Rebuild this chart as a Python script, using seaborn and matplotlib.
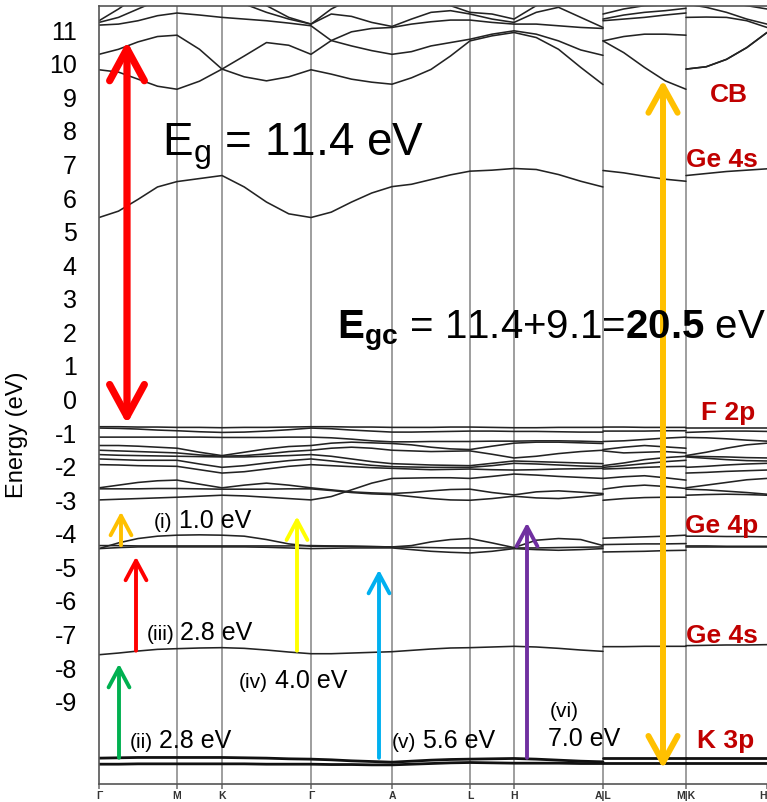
import matplotlib
matplotlib.use("Agg")
import matplotlib.pyplot as plt
import numpy as np
import pandas as pd
import seaborn as sns
from matplotlib.patches import FancyArrowPatch

# ---------------------------------------------------------------- data
# k-path coordinate: Γ-M-K-Γ-A-L-H-A | L-M | K-H
K_PATH = [0, 19.5, 39, 58.5, 78, 100.5, 123, 145.25, 167.5, 189.75, 212,
          232.25, 252.5, 272.75, 293, 312.5, 332, 351.5, 371, 393, 415,
          437.25, 459.5, 481.75, 504,
          504, 524.75, 545.5, 566.25, 587,
          587, 607.25, 627.5, 647.75, 668]
PIECE = [1] * 25 + [2] * 5 + [3] * 5

HSP_POS = [0, 78, 123, 212, 293, 371, 415, 504, 587, 668]
HSP_LABELS = ["Γ", "M", "K", "Γ", "A", "L", "H", "A|L", "M|K", "H"]

# conduction bands (eV)
CB1 = [5.39, 5.58, 5.93, 6.30, 6.46, 6.55, 6.64, 6.30, 5.85, 5.50, 5.39,
       5.55, 5.85, 6.12, 6.31, 6.38, 6.52, 6.66, 6.77, 6.80, 6.85,
       6.82, 6.67, 6.47, 6.30,
       6.79, 6.72, 6.62, 6.53, 6.47,
       6.64, 6.70, 6.76, 6.80, 6.84]
CB2 = [9.79, 9.72, 9.51, 9.30, 9.21, 9.45, 9.81, 9.58, 9.46, 9.58, 9.79,
       9.66, 9.51, 9.42, 9.36, 9.55, 9.80, 10.20, 10.65, 10.80, 10.90,
       10.75, 10.40, 9.86, 9.35,
       10.65, 10.30, 9.86, 9.46, 9.21,
       9.81, 9.88, 10.10, 10.45, 10.90]
CB3 = [10.25, 10.40, 10.62, 10.78, 10.82, 10.40, 9.81, 10.20, 10.60, 10.52, 10.25,
       10.66, 10.50, 10.36, 10.25, 10.33, 10.50, 10.60, 10.70, 10.85, 10.95,
       10.85, 10.65, 10.38, 10.22,
       10.65, 10.78, 10.85, 10.85, 10.82,
       9.81, 9.88, 10.10, 10.45, 10.90]
CB4 = [11.12, 11.15, 11.25, 11.40, 11.48, 11.42, 11.35, 11.30, 11.25, 11.18, 11.10,
       10.66, 10.92, 11.02, 11.05, 11.15, 11.22, 11.27, 11.27, 11.20, 11.15,
       11.15, 11.10, 11.05, 11.02,
       11.25, 11.30, 11.35, 11.42, 11.48,
       11.35, 11.36, 11.35, 11.25, 11.05]
CB5 = [11.20, 11.35, 11.60, 11.85, 12.00, 12.10, 12.00, 11.75, 11.50, 11.30, 11.15,
       11.45, 11.38, 11.20, 11.08, 11.30, 11.50, 11.55, 11.45, 11.30, 11.20,
       11.50, 11.65, 11.35, 11.05,
       11.30, 11.42, 11.50, 11.55, 11.62,
       11.75, 11.65, 11.50, 11.30, 11.15]
CB6 = [11.25, 11.60, 12.00, 12.30, 12.40, 12.30, 12.20, 12.00, 11.70, 11.35, 11.15,
       11.60, 11.90, 12.10, 12.20, 12.10, 11.90, 11.70, 11.50, 11.45, 11.30,
       11.70, 12.00, 12.20, 12.30,
       11.45, 11.60, 11.70, 11.72, 11.75,
       12.00, 11.90, 11.80, 11.70, 11.60]

# F 2p valence bands (eV)
F1 = [-0.84, -0.84, -0.85, -0.85, -0.86, -0.86, -0.87, -0.86, -0.86, -0.85, -0.84,
      -0.84, -0.85, -0.85, -0.86, -0.86, -0.86, -0.85, -0.85, -0.86, -0.87,
      -0.87, -0.86, -0.86, -0.86,
      -0.85, -0.85, -0.86, -0.86, -0.86,
      -0.87, -0.87, -0.87, -0.87, -0.87]
F2 = [-0.88, -0.89, -0.91, -0.94, -0.96, -0.99, -1.01, -1.00, -0.97, -0.93, -0.88,
      -0.90, -0.94, -0.97, -1.00, -1.00, -0.99, -0.98, -0.97, -0.97, -0.98,
      -0.98, -0.99, -1.00, -1.00,
      -0.97, -0.97, -0.97, -0.96, -0.96,
      -1.01, -0.99, -0.97, -0.97, -0.98]
F3 = [-1.15, -1.15, -1.15, -1.15, -1.15, -1.15, -1.16, -1.16, -1.16, -1.15, -1.15,
      -1.17, -1.21, -1.26, -1.29, -1.29, -1.28, -1.28, -1.28, -1.27, -1.27,
      -1.26, -1.26, -1.27, -1.29,
      -1.28, -1.26, -1.22, -1.18, -1.15,
      -1.16, -1.17, -1.20, -1.24, -1.27]
F4 = [-1.40, -1.40, -1.42, -1.45, -1.48, -1.60, -1.70, -1.60, -1.50, -1.43, -1.40,
      -1.33, -1.30, -1.32, -1.34, -1.38, -1.45, -1.50, -1.52, -1.42, -1.33,
      -1.30, -1.30, -1.32, -1.34,
      -1.52, -1.45, -1.40, -1.44, -1.48,
      -1.70, -1.60, -1.48, -1.38, -1.33]
F5 = [-1.54, -1.56, -1.58, -1.60, -1.62, -1.68, -1.72, -1.70, -1.65, -1.58, -1.54,
      -1.48, -1.45, -1.48, -1.54, -1.56, -1.58, -1.57, -1.56, -1.66, -1.77,
      -1.72, -1.64, -1.58, -1.54,
      -1.56, -1.62, -1.60, -1.58, -1.62,
      -1.72, -1.73, -1.74, -1.76, -1.77]
F6 = [-1.67, -1.69, -1.70, -1.71, -1.72, -1.73, -1.74, -1.74, -1.72, -1.70, -1.67,
      -1.72, -1.80, -1.88, -1.94, -1.96, -1.98, -1.99, -2.00, -1.93, -1.86,
      -1.88, -1.90, -1.92, -1.94,
      -2.00, -1.92, -1.82, -1.76, -1.72,
      -1.74, -1.78, -1.82, -1.85, -1.86]
F7 = [-1.80, -1.82, -1.84, -1.84, -1.84, -1.95, -2.05, -2.00, -1.92, -1.85, -1.80,
      -1.86, -1.93, -1.99, -2.03, -2.04, -2.05, -2.05, -2.05, -2.00, -1.93,
      -1.95, -1.98, -2.01, -2.03,
      -2.05, -2.00, -1.94, -1.88, -1.84,
      -2.05, -2.02, -1.98, -1.95, -1.93]
F8 = [-1.97, -1.98, -2.00, -2.01, -2.02, -2.12, -2.22, -2.18, -2.10, -2.02, -1.97,
      -2.00, -2.03, -2.06, -2.08, -2.10, -2.12, -2.11, -2.10, -2.12, -2.13,
      -2.12, -2.10, -2.09, -2.08,
      -2.10, -2.08, -2.05, -2.03, -2.02,
      -2.22, -2.20, -2.17, -2.15, -2.13]
F9 = [-2.66, -2.58, -2.50, -2.45, -2.43, -2.55, -2.66, -2.58, -2.52, -2.58, -2.66,
      -2.72, -2.78, -2.81, -2.83, -2.80, -2.75, -2.71, -2.70, -2.80, -2.87,
      -2.78, -2.75, -2.79, -2.83,
      -2.70, -2.62, -2.58, -2.62, -2.68,
      -2.66, -2.58, -2.50, -2.42, -2.38]
F10 = [-2.69, -2.69, -2.69, -2.68, -2.68, -2.69, -2.70, -2.70, -2.70, -2.69, -2.69,
       -2.74, -2.80, -2.84, -2.86, -2.92, -2.98, -3.02, -3.03, -2.98, -2.91,
       -2.96, -2.98, -2.93, -2.86,
       -3.03, -2.98, -2.95, -2.94, -2.94,
       -2.70, -2.72, -2.76, -2.80, -2.85]
F11 = [-3.02, -3.00, -2.98, -2.96, -2.94, -2.91, -2.88, -2.90, -2.94, -2.98, -3.02,
       -2.92, -2.72, -2.52, -2.38, -2.37, -2.36, -2.36, -2.38, -2.32, -2.25,
       -2.28, -2.32, -2.35, -2.38,
       -2.38, -2.33, -2.30, -2.36, -2.43,
       -2.88, -2.86, -2.85, -2.86, -2.88]

# Ge 4p bands (eV)
G1 = [-4.47, -4.30, -4.17, -4.10, -4.07, -4.06, -4.07, -4.10, -4.20, -4.33, -4.40,
      -4.40, -4.40, -4.41, -4.42, -4.38, -4.27, -4.20, -4.17, -4.30, -4.44,
      -4.22, -4.17, -4.20, -4.38,
      -4.16, -4.14, -4.12, -4.10, -4.07,
      -4.10, -4.10, -4.11, -4.11, -4.12]
G2 = [-4.38, -4.38, -4.39, -4.39, -4.39, -4.39, -4.39, -4.39, -4.39, -4.39, -4.38,
      -4.39, -4.40, -4.41, -4.42, -4.43, -4.44, -4.45, -4.45, -4.45, -4.45,
      -4.45, -4.44, -4.43, -4.42,
      -4.35, -4.34, -4.33, -4.33, -4.32,
      -4.39, -4.39, -4.40, -4.40, -4.40]
G3 = [-4.47, -4.44, -4.42, -4.42, -4.42, -4.42, -4.42, -4.42, -4.43, -4.45, -4.47,
      -4.46, -4.45, -4.45, -4.45, -4.50, -4.55, -4.58, -4.60, -4.55, -4.47,
      -4.50, -4.52, -4.50, -4.47,
      -4.57, -4.56, -4.55, -4.53, -4.52,
      -4.42, -4.42, -4.42, -4.42, -4.42]

# Ge 4s band (eV)
GE4S = [-7.63, -7.58, -7.52, -7.47, -7.45, -7.43, -7.42, -7.44, -7.49, -7.55, -7.60,
        -7.60, -7.58, -7.56, -7.54, -7.50, -7.46, -7.43, -7.42, -7.40, -7.38,
        -7.40, -7.44, -7.49, -7.53,
        -7.39, -7.39, -7.38, -7.38, -7.38,
        -7.36, -7.35, -7.34, -7.34, -7.33]

# K 3p bands (eV)
K3P_UP = [-10.71, -10.70, -10.69, -10.69, -10.69, -10.69, -10.69, -10.70, -10.71, -10.73, -10.74,
          -10.76, -10.79, -10.81, -10.83, -10.80, -10.77, -10.75, -10.74, -10.73, -10.72,
          -10.74, -10.77, -10.80, -10.82,
          -10.72, -10.72, -10.72, -10.72, -10.72,
          -10.72, -10.72, -10.72, -10.72, -10.72]
K3P_LO = [-10.89, -10.89, -10.88, -10.88, -10.88, -10.88, -10.88, -10.88, -10.89, -10.89, -10.89,
          -10.90, -10.90, -10.91, -10.91, -10.89, -10.87, -10.85, -10.84, -10.85, -10.86,
          -10.86, -10.86, -10.87, -10.87,
          -10.85, -10.85, -10.85, -10.85, -10.85,
          -10.85, -10.85, -10.85, -10.85, -10.85]

# transition energies written next to the arrows (eV)
TRANS_NAMES = ["(i)", "(ii)", "(iii)", "(iv)", "(v)", "(vi)"]
TRANS_EV = [1.0, 2.8, 2.8, 4.0, 5.6, 7.0]
# band energy each transition starts from (eV)
TRANS_FROM = [-4.37, -10.70, -7.51, -7.51, -10.70, -10.70]

GAP_EV = 11.4
CORE_GAP_EV = 9.1
TOTAL_GAP_EV = 20.5

ORBITAL_LABELS = ["CB", "Ge 4s", "F 2p", "Ge 4p", "Ge 4s", "K 3p"]
ORBITAL_E = [8.86, 6.92, -0.61, -3.98, -7.25, -10.38]

# ---------------------------------------------------------------- frame
regular = ["CB1", "CB2", "CB3", "CB4", "CB5", "CB6",
           "F1", "F2", "F3", "F4", "F5", "F6", "F7", "F8", "F9", "F10", "F11",
           "G1", "G2", "G3", "GE4S"]
core = ["K3P_UP", "K3P_LO"]
series = {n: globals()[n] for n in regular + core}

rows = []
for name, values in series.items():
    for k, e, p in zip(K_PATH, values, PIECE):
        rows.append({"band": name, "k": k, "E": e, "piece": p,
                     "unit": f"{name}-{p}"})
bands = pd.DataFrame(rows)

# ---------------------------------------------------------------- style
sns.set_style("white")
plt.rcParams["font.family"] = ["Liberation Sans", "DejaVu Sans"]
plt.rcParams["mathtext.fontset"] = "custom"
plt.rcParams["mathtext.rm"] = "Liberation Sans"
plt.rcParams["mathtext.it"] = "Liberation Sans:italic"
plt.rcParams["mathtext.bf"] = "Liberation Sans:bold"
for key in ["text.color", "axes.labelcolor", "xtick.color", "ytick.color"]:
    plt.rcParams[key] = "black"

W, H = 767, 803
fig = plt.figure(figsize=(W / 100, H / 100), dpi=100)
ax = fig.add_axes([99 / W, 1 - 785 / H, (W - 99) / W, (785 - 7.3) / H])

Y_TOP, Y_BOT = 11.68, -11.48
ax.set_xlim(0, 668)
ax.set_ylim(Y_BOT, Y_TOP)

# high-symmetry guide lines
for k in HSP_POS[1:-1]:
    ax.axvline(k, color="#969696", lw=1.3, zorder=1)

band_color = "#232323"
sns.lineplot(data=bands[bands.band.isin(regular)], x="k", y="E", units="unit",
             estimator=None, sort=False, color=band_color, lw=1.15, ax=ax,
             legend=False, zorder=2)
sns.lineplot(data=bands[bands.band.isin(core)], x="k", y="E", units="unit",
             estimator=None, sort=False, color="#111111", lw=2.0, ax=ax,
             legend=False, zorder=2)

# axes cosmetics
for side in ["left", "top", "bottom"]:
    ax.spines[side].set_color("#555555")
    ax.spines[side].set_linewidth(1.2)
ax.spines["right"].set_visible(False)

yt = list(range(11, -10, -1))
ax.set_yticks(yt)
ax.set_yticklabels([str(v) for v in yt], fontsize=18)
ax.tick_params(axis="y", length=0, pad=16)
ax.set_xticks(HSP_POS)
ax.set_xticklabels(HSP_LABELS, fontsize=7.5, fontweight="bold")
for t in ax.get_xticklabels():
    t.set_color("#333333")
ax.get_xticklabels()[-1].set_horizontalalignment("right")
ax.tick_params(axis="x", direction="out", length=3.5, width=1.2, color="#777777",
               pad=1, bottom=True)
ax.set_xlabel("")
ax.set_ylabel("Energy (eV)", fontsize=17)
ax.yaxis.set_label_coords(-0.106, 0.451)


def arrow(k, e0, e1, color, lw, head_len, head_w, style="->"):
    a = FancyArrowPatch((k, e0), (k, e1),
                        arrowstyle=f"{style},head_length={head_len},head_width={head_w}",
                        mutation_scale=1, lw=lw, color=color, shrinkA=0, shrinkB=0,
                        capstyle="round", joinstyle="round", zorder=5)
    ax.add_patch(a)


# band gap double arrows
gap_base = -0.76
arrow(28, gap_base, gap_base + GAP_EV, "#ff0000", 5.2, 23, 12.5, style="<->")
core_mid = -0.77
arrow(564, core_mid + TOTAL_GAP_EV / 2, core_mid - TOTAL_GAP_EV / 2,
      "#ffc000", 4.3, 19, 10.5, style="<->")

ax.text(63, 7.28, r"E$_\mathrm{g}$ = " + f"{GAP_EV:.1f} eV", fontsize=33,
        ha="left", va="baseline", zorder=6)
ax.text(238, 1.83,
        r"$\mathbf{E_{gc}}$ = " + f"{GAP_EV:.1f}+{CORE_GAP_EV:.1f}="
        + r"$\mathbf{" + f"{TOTAL_GAP_EV:.1f}" + r"}$ eV",
        fontsize=29, ha="left", va="baseline", zorder=6)

# interband transitions
trans_colors = ["#ffc000", "#00b050", "#ff0000", "#ffff00", "#00b0f0", "#7030a0"]
trans_k = [22, 20, 37, 198, 280, 428]
for name, ev, e0, c, k in zip(TRANS_NAMES, TRANS_EV, TRANS_FROM, trans_colors, trans_k):
    arrow(k, e0, e0 + ev, c, 2.8, 14, 7.5)

# labels: (prefix right edge, value left edge, baseline)
label_pos = {"(i)": (73, 80, -3.83), "(ii)": (54, 60, -10.38),
             "(iii)": (76, 81, -7.17), "(iv)": (169, 176, -8.59),
             "(v)": (317, 324, -10.38)}
for name, ev in zip(TRANS_NAMES, TRANS_EV):
    if name in label_pos:
        xr, xl, yb = label_pos[name]
        ax.text(xr, yb, name, fontsize=15, ha="right", va="baseline", zorder=6)
        ax.text(xl, yb, f"{ev:.1f} eV", fontsize=18, ha="left", va="baseline", zorder=6)
    else:
        ax.text(451, -9.46, name, fontsize=15, ha="left", va="baseline", zorder=6)
        ax.text(449, -10.32, f"{ev:.1f} eV", fontsize=18, ha="left",
                va="baseline", zorder=6)

# orbital character labels
orb_x = [630, 623, 629, 623, 623, 627]
for lab, e, x in zip(ORBITAL_LABELS, ORBITAL_E, orb_x):
    ax.text(x, e, lab, fontsize=19, fontweight="bold", color="#c00000",
            ha="center", va="baseline", zorder=6)

fig.savefig("out.png", dpi=100, facecolor="white")
